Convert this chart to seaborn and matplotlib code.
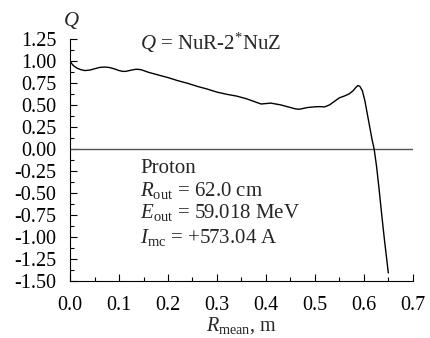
import numpy as np
import pandas as pd
import matplotlib
matplotlib.use("Agg")
import matplotlib.pyplot as plt
import seaborn as sns
from matplotlib.ticker import MultipleLocator, FormatStrFormatter

# Q profile along the mean radius
r_mean = [0.000, 0.003, 0.008, 0.015, 0.022, 0.030, 0.040, 0.050, 0.060, 0.070,
          0.080, 0.090, 0.100, 0.108, 0.115, 0.125, 0.135, 0.145, 0.160, 0.180,
          0.200, 0.220, 0.240, 0.260, 0.280, 0.300, 0.320, 0.340, 0.360, 0.375,
          0.390, 0.400, 0.410, 0.420, 0.430, 0.440, 0.450, 0.460, 0.467, 0.475,
          0.485, 0.500, 0.510, 0.520, 0.530, 0.540, 0.550, 0.560, 0.570, 0.578,
          0.584, 0.588, 0.592, 0.597, 0.602, 0.607, 0.612, 0.617, 0.621, 0.626,
          0.631, 0.636, 0.641, 0.646, 0.650]
q_vals = [1.00, 0.97, 0.94, 0.915, 0.90, 0.89, 0.895, 0.91, 0.925, 0.93,
          0.925, 0.91, 0.89, 0.88, 0.882, 0.895, 0.905, 0.90, 0.87, 0.84,
          0.81, 0.775, 0.745, 0.71, 0.68, 0.645, 0.62, 0.60, 0.57, 0.54,
          0.51, 0.515, 0.52, 0.51, 0.50, 0.485, 0.47, 0.455, 0.45, 0.458,
          0.47, 0.478, 0.48, 0.477, 0.50, 0.54, 0.58, 0.60, 0.625, 0.66,
          0.70, 0.72, 0.71, 0.66, 0.55, 0.40, 0.25, 0.10, 0.00, -0.20,
          -0.45, -0.72, -0.98, -1.22, -1.41]

x_ticks = [0.0, 0.1, 0.2, 0.3, 0.4, 0.5, 0.6, 0.7]
y_ticks = [1.25, 1.00, 0.75, 0.50, 0.25, 0.00, -0.25, -0.50, -0.75, -1.00, -1.25, -1.50]

info_lines = ["Proton",
              r"$R_{\rm out}$ = 62.0 cm",
              r"$E_{\rm out}$ = 59.018 MeV",
              r"$I_{\rm mc}$ = +573.04 A"]
title_text = r"$Q$ = NuR-2$^{*}$NuZ"

sns.set_theme(style="ticks")
plt.rcParams["font.family"] = ["Liberation Serif", "DejaVu Serif"]
plt.rcParams["mathtext.fontset"] = "custom"
plt.rcParams["mathtext.rm"] = "Liberation Serif"
plt.rcParams["mathtext.it"] = "Liberation Serif:italic"
plt.rcParams["axes.unicode_minus"] = True

df = pd.DataFrame({"r": r_mean, "q": q_vals})

fig = plt.figure(figsize=(4.30, 3.38), dpi=100)
ax = fig.add_axes([0.163, 0.169, 0.797, 0.716])

ax.axhline(0, color="#555555", lw=1.0, zorder=1)
sns.lineplot(data=df, x="r", y="q", sort=False, estimator=None, ax=ax,
             color="black", lw=1.0, zorder=2)

ax.set_xlim(0, 0.7)
ax.set_ylim(-1.5, 1.25)
ax.set_xticks(x_ticks)
ax.set_yticks(y_ticks)
ax.xaxis.set_major_formatter(FormatStrFormatter("%.1f"))
ax.yaxis.set_major_formatter(FormatStrFormatter("%.2f"))
ax.xaxis.set_minor_locator(MultipleLocator(0.05))
ax.yaxis.set_minor_locator(MultipleLocator(0.125))
ax.tick_params(which="both", direction="in", colors="black", labelsize=14.5,
               width=0.8)
ax.tick_params(which="major", length=5)
ax.tick_params(which="minor", length=3)
ax.tick_params(axis="y", which="major", pad=10)
ax.tick_params(axis="x", which="major", pad=11)

for side in ("top", "right"):
    ax.spines[side].set_visible(False)
for side in ("left", "bottom"):
    ax.spines[side].set_color("black")
    ax.spines[side].set_linewidth(0.8)

ax.set_xlabel(r"$R_{\rm mean}$, m", fontsize=14.5, labelpad=0)
ax.set_ylabel("")
ax.text(0.003, 1.075, r"$Q$", transform=ax.transAxes, ha="center",
        va="center", fontsize=15)

ax.text(0.143, 1.13, title_text, fontsize=15, va="baseline", ha="left")
baselines = [-0.27, -0.54, -0.78, -1.065]
for txt, yb in zip(info_lines, baselines):
    ax.text(0.143, yb, txt, fontsize=15, va="baseline", ha="left")

fig.savefig("out.png", dpi=100, facecolor="white")
